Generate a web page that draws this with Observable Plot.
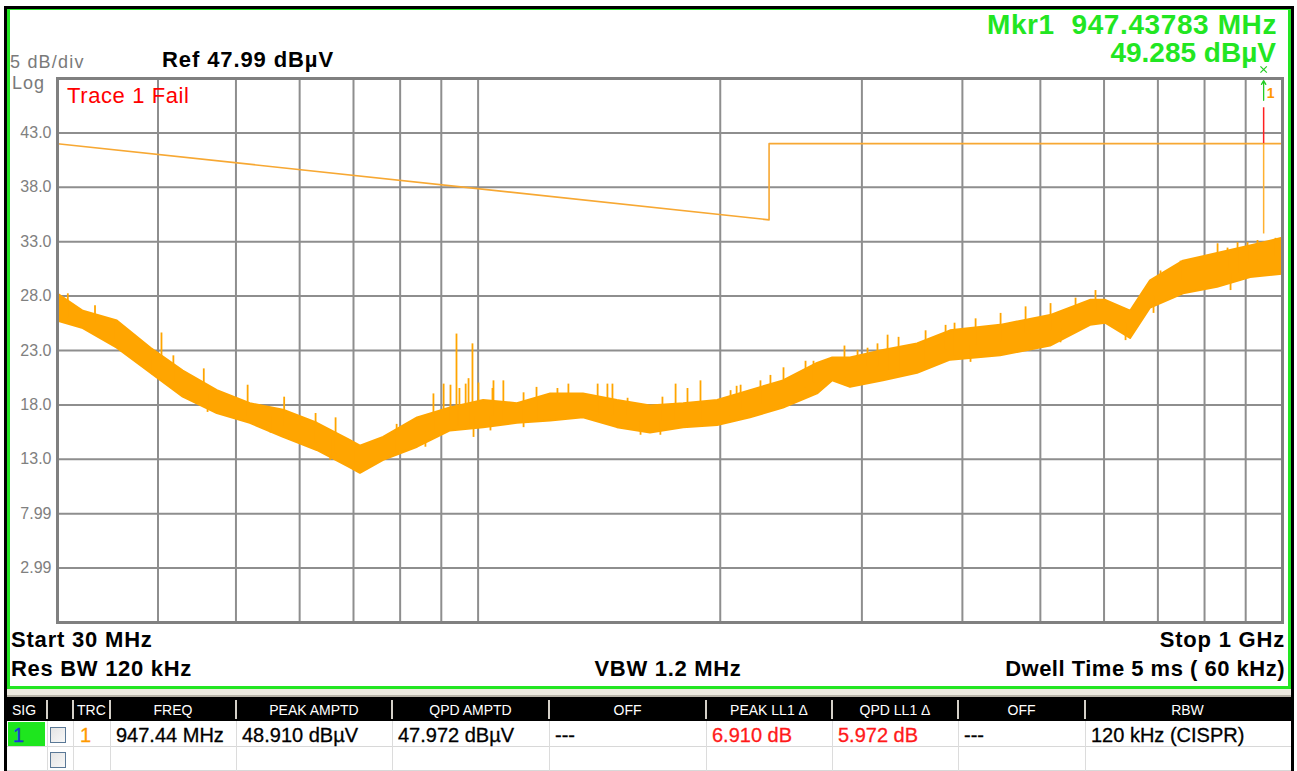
<!DOCTYPE html>
<html>
<head>
<meta charset="utf-8">
<script src="https://cdn.jsdelivr.net/npm/d3@7"></script>
<script src="https://cdn.jsdelivr.net/npm/@observablehq/plot@0.6"></script>
<style>
  html, body { margin: 0; padding: 0; background: #fff; }
  #screen { position: relative; width: 1297px; height: 771px; overflow: hidden; background: #fff; font-family: "Liberation Sans", Arial, sans-serif; }
  .abs { position: absolute; white-space: pre; line-height: 1; }
  .b { font-weight: bold; }
</style>
</head>
<body>
<div id="screen"></div>
<script>
// ---------------- data ----------------
const refLevel = 47.99;          // dBµV, top of the graticule
const dbPerDiv = 5;
const startMHz = 30, stopMHz = 1000;

const gridFreq = [40, 50, 60, 70, 80, 90, 100, 200, 300, 400, 500, 600, 700, 800, 900];
const levelTicks = [42.99, 37.99, 32.99, 27.99, 22.99, 17.99, 12.99, 7.99, 2.99];
const levelLabels = ["43.0", "38.0", "33.0", "28.0", "23.0", "18.0", "13.0", "7.99", "2.99"];

// limit line LL1 (dBµV)
const limitFreq = [30, 230, 230, 1000];
const limitLevel = [42, 35, 42, 42];

// trace 1 envelope (MHz, dBµV)
const traceFreq = [30, 32.3, 35.6, 39.2, 43.0, 47.4, 52.1, 57.3, 63.1, 69.4, 71.4, 76.3, 84.1, 92.4, 101.6, 111.9, 123.1, 135.2, 149.0, 163.8, 180.1, 198.5, 218.1, 239.7, 264.2, 276, 290.4, 319.1, 351.8, 386.7, 446.2, 514.8, 577.2, 602.7, 647.4, 685.5, 753.3, 830.4, 912.6, 1000];
const traceHigh = [28.2, 26.6, 25.7, 23.2, 21.1, 19.3, 18.1, 17.5, 16.3, 14.7, 14.2, 15.0, 16.8, 17.7, 18.4, 18.1, 19.0, 19.0, 18.4, 17.9, 18.1, 18.4, 19.3, 20.2, 21.8, 22.3, 22.3, 23.0, 23.6, 24.8, 25.3, 26.2, 27.6, 27.6, 26.6, 29.4, 31.2, 31.9, 32.6, 33.3];
const traceLow  = [25.7, 25.0, 23.2, 20.9, 18.7, 17.2, 16.3, 15.0, 13.8, 12.2, 11.7, 12.9, 14.1, 15.6, 15.9, 16.3, 16.5, 16.8, 15.9, 15.4, 15.9, 16.1, 16.8, 17.7, 19.0, 20.2, 19.6, 20.2, 20.9, 22.1, 22.5, 23.4, 25.3, 25.5, 24.1, 26.9, 28.2, 28.8, 29.7, 30.0];

// individual noise spikes (MHz, from dBµV, to dBµV)
const spikeFreq = [30.9, 33.4, 35.2, 40.4, 41.8, 45.6, 51.7, 57.4, 62.8, 66.5, 79.2, 88.0, 90.6, 94.0, 94.8, 97.3, 98.4, 100.1, 104.5, 107.5, 118.2, 129.5, 140.8, 146.9, 189.0, 209.6, 239.7, 255.3, 285.4, 322.9, 333.2, 360.0, 391.1, 830.4, 879.3,
  39.4, 46.1, 55.2, 65.5, 70.0,
  92.4, 96.5, 104.2, 113.9, 125.5, 144.8, 153.4, 169.5, 176.0, 182.1, 206.0, 212.0, 224.4, 230.9, 261.2, 296.3, 304.9, 313.7, 381.2, 415.4, 446.2, 479.3, 514.8, 553.0, 585.5, 666.1, 705.3, 746.9, 854.4, 904.8, 931.0, 980.2,
  86.0, 98.7, 103.6, 113.9, 159.2, 168.5, 409.4, 486.2, 529.7, 638.1, 691.3, 861.8];
const spikeFrom = [26, 25.5, 24, 21.5, 20, 18, 17, 16, 14.5, 13.5, 13.5, 15.5, 16, 16, 16, 16, 16, 16, 16.5, 16.5, 16.5, 17, 17, 17, 16.5, 16.5, 18, 19.5, 20.5, 21, 21, 21.5, 22.5, 29.5, 30,
  22.5, 19, 17, 15, 14,
  16.5, 17, 17, 17, 17.5, 17.5, 17, 16.5, 16.5, 16.5, 17, 17.5, 18, 18.5, 20, 21, 21.5, 21.5, 23, 23.5, 23.8, 24.5, 24.8, 25.5, 26.5, 27.5, 28.2, 29.5, 30.5, 31, 31.3, 31.6,
  15.5, 17, 17, 17.5, 16.5, 16.5, 23.5, 24.5, 25, 25.5, 28, 30];
const spikeTo   = [28.2, 27.1, 25.7, 24.6, 22.5, 21.3, 19.8, 18.7, 17.2, 16.8, 16.2, 19.0, 19.9, 24.5, 19.5, 20.4, 23.6, 20.0, 20.2, 20.2, 19.6, 19.9, 19.9, 19.9, 20.2, 19.7, 21.4, 22.0, 23.4, 24.4, 24.2, 24.8, 25.5, 32.8, 32.9,
  20.7, 17.3, 15.4, 12.9, 12.0,
  19.8, 19.9, 19.5, 19.1, 19.5, 19.9, 18.6, 18.7, 19.9, 19.5, 19.3, 19.8, 20.2, 20.7, 22.0, 23.0, 23.2, 23.6, 25.3, 25.9, 26.4, 27.0, 27.3, 27.8, 28.5, 28.0, 30.3, 31.2, 32.4, 32.9, 33.1, 33.3,
  14.1, 15.0, 15.6, 15.9, 15.2, 15.2, 21.9, 23.0, 23.7, 23.9, 26.4, 28.5];

// marker 1 peak
const markerFreq = 947.44;
const peakBase = 33.7;
const peakTop = 45.3;

// texts
const markerLines = ["Mkr1  947.43783 MHz", "49.285 dBµV"];
const tableHeaders = ["SIG", "", "TRC", "FREQ", "PEAK AMPTD", "QPD AMPTD", "OFF", "PEAK LL1 Δ", "QPD LL1 Δ", "OFF", "RBW"];
const tableRow1 = ["1", "", "1", "947.44 MHz", "48.910 dBµV", "47.972 dBµV", "---", "6.910 dB", "5.972 dB", "---", "120 kHz (CISPR)"];

// ---------------- build ----------------
const screen = document.getElementById("screen");
function box(x, y, w, h, style) {
  const d = document.createElement("div");
  d.className = "abs";
  Object.assign(d.style, {left: x + "px", top: y + "px", width: w + "px", height: h + "px"}, style || {});
  screen.appendChild(d);
  return d;
}
function txt(s, x, cy, size, opts) {
  opts = opts || {};
  const d = document.createElement("div");
  d.className = "abs" + (opts.bold ? " b" : "");
  d.textContent = s;
  d.style.fontSize = size + "px";
  d.style.top = (cy - size * 0.49) + "px";
  d.style.color = opts.color || "#000";
  if (opts.ls) d.style.letterSpacing = opts.ls + "px";
  if (opts.stroke) d.style.webkitTextStroke = opts.stroke + "px " + (opts.color || "#000");
  if (opts.align === "right") { d.style.right = (1297 - x) + "px"; }
  else if (opts.align === "center") { d.style.left = x + "px"; d.style.transform = "translateX(-50%)"; }
  else d.style.left = x + "px";
  screen.appendChild(d);
  return d;
}

// screen frame
box(4, 6, 1290, 765, {borderLeft: "3px solid #000", borderTop: "3px solid #000", borderRight: "3px solid #000", boxSizing: "border-box"});
box(7, 9, 1284, 680, {borderLeft: "3px solid #22e622", borderRight: "3px solid #22e622", borderBottom: "3px solid #22e622", borderTop: "1px solid #22e622", boxSizing: "border-box"});
box(7, 689, 1284, 8, {background: "#ece9df", borderBottom: "2px solid #b8b4a8", boxSizing: "border-box"});

// chart
const trace = traceFreq.map((f, i) => ({f, hi: traceHigh[i], lo: traceLow[i]}));
const spikes = spikeFreq.map((f, i) => ({f, a: spikeFrom[i], b: spikeTo[i]}));
const limit = limitFreq.map((f, i) => ({f, v: limitLevel[i]}));
const yMin = refLevel - 10 * dbPerDiv;
const limitAtMarker = limitLevel[limitLevel.length - 1];

const chart = Plot.plot({
  width: 1297,
  height: 690,
  marginLeft: 57,
  marginRight: 15,
  marginTop: 78,
  marginBottom: 68,
  style: {background: "transparent", fontFamily: "Liberation Sans, Arial, sans-serif", overflow: "visible"},
  x: {type: "log", domain: [startMHz, stopMHz], axis: null},
  y: {domain: [yMin, refLevel], axis: null},
  marks: [
    Plot.ruleX(gridFreq, {stroke: "#8e8e8e", strokeWidth: 2}),
    Plot.ruleY(levelTicks, {stroke: "#8e8e8e", strokeWidth: 2}),
    Plot.text(levelTicks, {y: d => d, text: (d, i) => levelLabels[i], frameAnchor: "left", textAnchor: "end", dx: -6, fill: "#808080", fontSize: 16}),
    Plot.line(limit, {x: "f", y: "v", stroke: "#f7a833", strokeWidth: 1.6}),
    Plot.areaY(trace, {x: "f", y1: "lo", y2: "hi", fill: "#ffa500", stroke: "#ffa500", strokeWidth: 2}),
    Plot.ruleX(spikes, {x: "f", y1: "a", y2: "b", stroke: "#ffa500", strokeWidth: 1.8}),
    Plot.ruleX([markerFreq], {y1: peakBase, y2: limitAtMarker, stroke: "#ffb030", strokeWidth: 1.5}),
    Plot.ruleX([markerFreq], {y1: limitAtMarker, y2: peakTop, stroke: "#ff2020", strokeWidth: 1.5}),
    Plot.frame({stroke: "#808080", strokeWidth: 3}),
    Plot.dot([markerFreq], {x: d => d, y: refLevel, symbol: "times", r: 3, stroke: "#22cc22", strokeWidth: 1.2, dy: -9}),
    Plot.arrow([markerFreq], {x: d => d, y1: refLevel - 2.0, y2: refLevel - 0.2, stroke: "#22cc22", strokeWidth: 1.3, headLength: 5}),
    Plot.text([markerFreq], {x: d => d, y: refLevel, text: ["1"], dx: 7, dy: 15, fill: "#ff9900", fontSize: 14, fontWeight: "bold"})
  ]
});
chart.style.position = "absolute";
chart.style.left = "0px";
chart.style.top = "0px";
screen.appendChild(chart);

// header texts
txt("5 dB/div", 10, 62, 18, {color: "#7a7a7a", ls: 1.2});
txt("Log", 12, 83, 18, {color: "#7a7a7a", ls: 1});
txt("Ref 47.99 dBµV", 162, 60, 22, {bold: true, ls: 0.9});
txt("Trace 1 Fail", 67, 96, 22, {color: "#ff0000", ls: 0.6});
txt(markerLines[0], 1277, 25, 28, {bold: true, color: "#22e622", ls: 0.6, align: "right"});
txt(markerLines[1], 1276, 53, 28, {bold: true, color: "#22e622", ls: 0, align: "right"});

// footer texts
txt("Start 30 MHz", 11, 640, 22, {bold: true, ls: 0.8});
txt("Res BW 120 kHz", 11, 669, 22, {bold: true, ls: 0.7});
txt("VBW 1.2 MHz", 668, 669, 22, {bold: true, ls: 0.7, align: "center"});
txt("Stop 1 GHz", 1285, 640, 22, {bold: true, ls: 0.8, align: "right"});
txt("Dwell Time 5 ms ( 60 kHz)", 1285, 669, 22, {bold: true, ls: 0.5, align: "right"});

// table
const colEdges = [8, 47, 73, 110, 236, 392, 549, 706, 832, 958, 1085, 1290];
box(7, 697, 1284, 24, {background: "#000"});
for (let i = 1; i < colEdges.length - 1; i++) {
  box(colEdges[i] - 1, 700, 2, 19, {background: "#d4d0c8"});
}
tableHeaders.forEach((h, i) => {
  if (!h) return;
  const x0 = colEdges[i], x1 = colEdges[i + 1];
  if (i === 0 || i === 2) txt(h, x0 + 4, 710, 14, {color: "#fff"});
  else txt(h, (x0 + x1) / 2, 710, 14, {color: "#fff", align: "center"});
});
// row grid
box(7, 746, 1284, 1, {background: "#d8d8d8"});
box(7, 770, 1284, 1, {background: "#d8d8d8"});
for (let i = 1; i < colEdges.length - 1; i++) {
  box(colEdges[i], 721, 1, 50, {background: "#dcdcdc"});
}
// SIG cell
box(8, 722, 37, 24, {background: "#1ee61e"});
// checkboxes
[727, 752].forEach(y => box(50, y, 14, 14, {border: "1px solid #5a7896", background: "linear-gradient(135deg,#e4e4e4,#f8f8f8)"}));
tableRow1.forEach((v, i) => {
  if (!v) return;
  const x0 = colEdges[i];
  let color = "#000";
  if (i === 0) color = "#1c35d8";
  if (i === 2) color = "#ff9a00";
  if (i === 7 || i === 8) color = "#ff1a1a";
  const dx = (i === 0) ? 5 : (i === 2 ? 7 : 6);
  txt(v, x0 + dx, 735, 20, {color, ls: 0, stroke: 0.3});
});
</script>
</body>
</html>
